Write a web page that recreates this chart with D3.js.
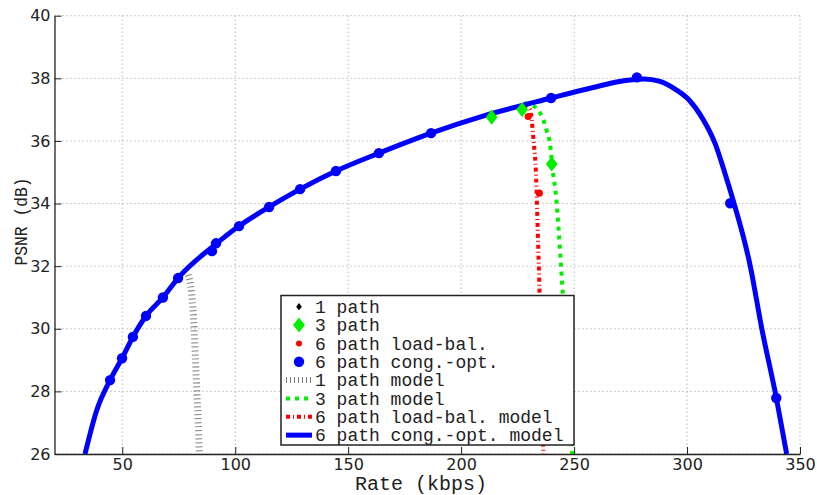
<html>
<head>
<script src="https://d3js.org/d3.v7.min.js"></script>
<style>
  body { margin: 0; background: #fff; }
  .tick text { font-family: "DejaVu Sans", sans-serif; font-size: 16px; fill: #222; }
</style>
</head>
<body>
<div id="plot"></div>
<script>
var xTicks = [50, 100, 150, 200, 250, 300, 350];
var yTicks = [26, 28, 30, 32, 34, 36, 38, 40];

// 6 path cong.-opt. measured
var congRate = [44.6, 49.9, 54.7, 60.5, 68, 74.7, 89.7, 91.5, 101.7, 115, 128.7, 144.6, 163.6, 186.7, 239.8, 277.8, 319.1, 339.5];
var congPsnr = [28.36, 29.06, 29.74, 30.41, 31.0, 31.62, 32.48, 32.73, 33.28, 33.89, 34.46, 35.04, 35.61, 36.25, 37.37, 38.03, 34.01, 27.79];
// 3 path measured
var path3Rate = [213.5, 227, 240.1];
var path3Psnr = [36.76, 37.0, 35.26];
// 6 path load-bal. measured
var loadRate = [229.7, 234.6];
var loadPsnr = [36.78, 34.33];

// models
var congModelRate = [33.5, 38.7, 44.6, 49.9, 54.7, 60.5, 68, 74.7, 91, 101.7, 115, 128.7, 144.6, 163.6, 186.7, 210, 239.8, 258, 272, 281, 288, 295, 301, 307, 312.4, 316.8, 320, 328, 333.1, 339.5, 344.1];
var congModelPsnr = [26.0, 27.4, 28.36, 29.06, 29.74, 30.41, 31.0, 31.62, 32.68, 33.28, 33.89, 34.46, 35.04, 35.61, 36.25, 36.8, 37.37, 37.7, 37.92, 37.98, 37.9, 37.64, 37.3, 36.7, 35.92, 34.96, 34.2, 32.0, 30.0, 27.8, 26.0];
var path3ModelRate = [228, 231, 233.9, 236.4, 237.9, 239.2, 240.8, 242, 243.2, 244.7, 246.5, 248, 249.1];
var path3ModelPsnr = [37.2, 37.15, 37.0, 36.67, 36.32, 35.97, 34.91, 34.24, 33.12, 31.46, 29.5, 27.8, 26.0];
var loadModelRate = [228, 230.5, 232, 233.2, 233.9, 234.6, 235.5, 236.4];
var loadModelPsnr = [37.15, 37.0, 36.06, 34.82, 33.15, 31.46, 29.0, 26.0];
var path1ModelRate = [79.2, 80.7, 81.8, 82.4, 83, 83.6, 84.1];
var path1ModelPsnr = [31.72, 31.13, 30.0, 29.0, 28.0, 27.0, 26.0];

var legendLabels = ["1 path", "3 path", "6 path load-bal.", "6 path cong.-opt.",
  "1 path model", "3 path model", "6 path load-bal. model", "6 path cong.-opt. model"];

var width = 817, height = 495;
var plotL = 54.5, plotR = 800, plotT = 15.7, plotB = 454;

var svg = d3.select("#plot").append("svg")
  .attr("width", width).attr("height", height);

var x = d3.scaleLinear().domain([20, 350]).range([plotL, plotR]);
var y = d3.scaleLinear().domain([26, 40]).range([plotB, plotT]);

svg.append("clipPath").attr("id", "clip").append("rect")
  .attr("x", plotL).attr("y", plotT).attr("width", plotR - plotL).attr("height", plotB - plotT);

// grid
var grid = svg.append("g").attr("stroke", "#999").attr("stroke-width", 1).attr("stroke-dasharray", "1,3");
xTicks.forEach(function (t) {
  grid.append("line").attr("x1", x(t)).attr("x2", x(t)).attr("y1", plotT).attr("y2", plotB);
});
yTicks.forEach(function (t) {
  grid.append("line").attr("x1", plotL).attr("x2", plotR).attr("y1", y(t)).attr("y2", y(t));
});

// axes
svg.append("g")
  .attr("transform", "translate(0," + plotB + ")")
  .call(d3.axisBottom(x).tickValues(xTicks).tickSizeInner(-7).tickSizeOuter(0).tickPadding(5))
  .call(g => g.select(".domain").attr("stroke", "#222").attr("stroke-width", 1.3))
  .call(g => g.selectAll(".tick line").attr("stroke", "#222"));
svg.append("g")
  .attr("transform", "translate(" + plotL + ",0)")
  .call(d3.axisLeft(y).tickValues(yTicks).tickSizeInner(-7).tickSizeOuter(0).tickPadding(4))
  .call(g => g.select(".domain").attr("stroke", "#222").attr("stroke-width", 1.3))
  .call(g => g.selectAll(".tick line").attr("stroke", "#222"));

svg.append("text").attr("x", 421).attr("y", 490)
  .attr("text-anchor", "middle")
  .style("font-family", "'Liberation Mono', monospace").style("font-size", "20px").attr("fill", "#222")
  .text("Rate (kbps)");
svg.append("text")
  .attr("transform", "translate(27,221.5) rotate(-90)")
  .attr("text-anchor", "middle")
  .attr("textLength", 88).attr("lengthAdjust", "spacingAndGlyphs")
  .style("font-family", "'Liberation Mono', monospace").style("font-size", "19px").attr("fill", "#222")
  .text("PSNR (dB)");

var plot = svg.append("g").attr("clip-path", "url(#clip)");

function zipPts(xs, ys) { return xs.map(function (v, i) { return [v, ys[i]]; }); }
var line = d3.line().x(d => x(d[0])).y(d => y(d[1])).curve(d3.curveMonotoneX);

var styles = {
  path1: { stroke: "#808080", width: 7, dash: "1,3" },
  path3: { stroke: "#00ee00", width: 4, dash: "4,5" },
  load: { stroke: "#ff0000", width: 4, dash: "4,3,1,3" },
  cong: { stroke: "#0000ff", width: 5, dash: null }
};

function drawLine(pts, s) {
  plot.append("path").datum(pts)
    .attr("d", line).attr("fill", "none")
    .attr("stroke", s.stroke).attr("stroke-width", s.width)
    .attr("stroke-dasharray", s.dash);
}
drawLine(zipPts(path1ModelRate, path1ModelPsnr), styles.path1);
drawLine(zipPts(path3ModelRate, path3ModelPsnr), styles.path3);
drawLine(zipPts(loadModelRate, loadModelPsnr), styles.load);
drawLine(zipPts(congModelRate, congModelPsnr), styles.cong);

// diamond = rotated square, stretched vertically
var square = d3.symbol().type(d3.symbolSquare);
function diamondAt(px, py) {
  return "translate(" + px + "," + py + ") scale(1,1.27) rotate(45)";
}

plot.selectAll(".p3").data(zipPts(path3Rate, path3Psnr)).enter().append("path")
  .attr("transform", d => diamondAt(x(d[0]), y(d[1])))
  .attr("d", square.size(70)).attr("fill", "#00ee00");
plot.selectAll(".lb").data(zipPts(loadRate, loadPsnr)).enter().append("circle")
  .attr("cx", d => x(d[0])).attr("cy", d => y(d[1])).attr("r", 3.6).attr("fill", "#ff0000");
plot.selectAll(".co").data(zipPts(congRate, congPsnr)).enter().append("circle")
  .attr("cx", d => x(d[0])).attr("cy", d => y(d[1])).attr("r", 5.2).attr("fill", "#0000ff");

// legend
var lg = svg.append("g");
lg.append("rect").attr("x", 281).attr("y", 295.5).attr("width", 293).attr("height", 149.5)
  .attr("fill", "#fff").attr("stroke", "#222").attr("stroke-width", 1.5);
var rowY = i => 306.7 + i * 18.35;
legendLabels.forEach(function (lab, i) {
  lg.append("text").attr("x", 315).attr("y", rowY(i)).attr("dy", "0.35em")
    .style("font-family", "'Liberation Mono', monospace").style("font-size", "18px").attr("fill", "#222")
    .text(lab);
});
lg.append("path").attr("transform", diamondAt(299, rowY(0)))
  .attr("d", square.size(16)).attr("fill", "#000");
lg.append("path").attr("transform", diamondAt(299, rowY(1)))
  .attr("d", square.size(70)).attr("fill", "#00ee00");
lg.append("circle").attr("cx", 299).attr("cy", rowY(2)).attr("r", 3).attr("fill", "#ff0000");
lg.append("circle").attr("cx", 299).attr("cy", rowY(3)).attr("r", 5.2).attr("fill", "#0000ff");
[styles.path1, styles.path3, styles.load, styles.cong].forEach(function (s, k) {
  lg.append("line").attr("x1", 286).attr("x2", 312).attr("y1", rowY(4 + k)).attr("y2", rowY(4 + k))
    .attr("stroke", s.stroke).attr("stroke-width", k === 0 ? 6 : s.width)
    .attr("stroke-dasharray", s.dash);
});
</script>
</body>
</html>
